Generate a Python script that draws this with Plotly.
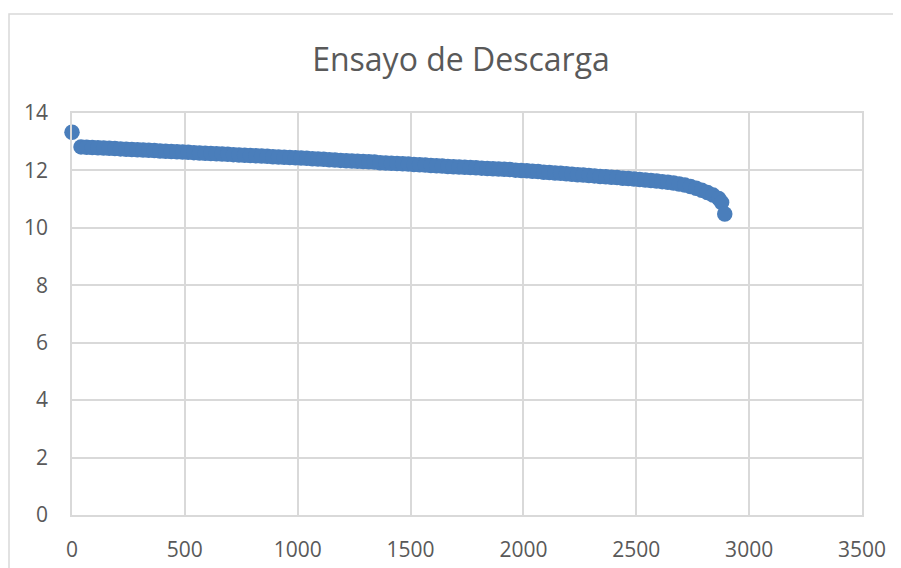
import plotly.graph_objects as go

title_text = "Ensayo de Descarga"

# time (s) and voltage (V)
time_s = [0] + list(range(40, 2866, 25)) + [2878, 2892]
voltage = [
    13.33,
    12.82, 12.81, 12.80, 12.79, 12.78, 12.77, 12.76, 12.75, 12.74, 12.73,
    12.72, 12.71, 12.70, 12.69, 12.68, 12.67, 12.66, 12.65, 12.64, 12.63,
    12.62, 12.61, 12.60, 12.59, 12.58, 12.57, 12.56, 12.55, 12.54, 12.53,
    12.52, 12.51, 12.50, 12.49, 12.48, 12.47, 12.46, 12.45, 12.44,
    12.43, 12.42, 12.41, 12.40, 12.39, 12.37, 12.36, 12.35, 12.34, 12.33,
    12.32, 12.31, 12.30, 12.29, 12.27, 12.26, 12.25, 12.24, 12.23, 12.22,
    12.21, 12.20, 12.19, 12.17, 12.16, 12.15, 12.14, 12.13, 12.12, 12.11,
    12.10, 12.09, 12.08, 12.07, 12.06, 12.05, 12.04, 12.03, 12.01, 12.00,
    11.99, 11.97, 11.96, 11.94, 11.93, 11.91, 11.90, 11.88, 11.87, 11.85,
    11.84, 11.82, 11.81, 11.79, 11.78, 11.76, 11.75, 11.73, 11.72, 11.70,
    11.68, 11.67, 11.65, 11.63, 11.61, 11.59, 11.56, 11.53, 11.49, 11.44,
    11.38, 11.31, 11.23, 11.14, 11.02,
    10.88, 10.48,
]

x_ticks = [0, 500, 1000, 1500, 2000, 2500, 3000, 3500]
y_ticks = [0, 2, 4, 6, 8, 10, 12, 14]

grid = "#d9d9d9"
text_col = "#595959"
font_family = "Open Sans, Noto Sans, sans-serif"

# page has an 8px body margin, so figure coords = page coords - 8
ML, MR, MT, MB = 64, 47, 105, 61
plot_w = 901 - ML - MR
plot_h = 568 - MT - MB

fig = go.Figure(
    go.Scatter(
        x=time_s,
        y=voltage,
        mode="markers",
        marker=dict(size=15.5, color="#4a7ebb", line=dict(width=0)),
        showlegend=False,
        hoverinfo="x+y",
        cliponaxis=False,
    )
)

fig.update_layout(
    width=901,
    height=568,
    paper_bgcolor="white",
    plot_bgcolor="white",
    margin=dict(l=ML, r=MR, t=MT, b=MB, autoexpand=False),
    title=dict(
        text=title_text,
        x=(461 - 8) / 901,
        xanchor="center",
        y=1 - (60 - 8) / 568,
        yanchor="middle",
        font=dict(family=font_family, size=32, color=text_col),
    ),
    font=dict(family=font_family, size=21, color=text_col),
    shapes=[
        dict(
            type="rect", xref="paper", yref="paper",
            x0=-63 / plot_w, x1=1.3, y0=-0.4, y1=1 + (113 - 14) / plot_h,
            line=dict(color=grid, width=1.5), fillcolor="rgba(0,0,0,0)",
            layer="below",
        )
    ],
)

fig.update_xaxes(
    range=[0, 3500],
    tickvals=x_ticks,
    ticktext=[str(v) for v in x_ticks],
    showgrid=True, gridcolor=grid, gridwidth=1.5,
    zeroline=False, showline=True, linecolor=grid, linewidth=1.5, mirror=True,
    ticks="outside", ticklen=15, tickcolor="rgba(0,0,0,0)",
    tickfont=dict(size=21, color=text_col),
    fixedrange=True, automargin=False,
)
fig.update_yaxes(
    range=[0, 14],
    tickvals=y_ticks,
    ticktext=[str(v) for v in y_ticks],
    showgrid=True, gridcolor=grid, gridwidth=1.5,
    zeroline=False, showline=True, linecolor=grid, linewidth=1.5, mirror=True,
    ticks="outside", ticklen=18, tickcolor="rgba(0,0,0,0)",
    tickfont=dict(size=21, color=text_col),
    fixedrange=True, automargin=False,
)

fig.write_html("out.html")
